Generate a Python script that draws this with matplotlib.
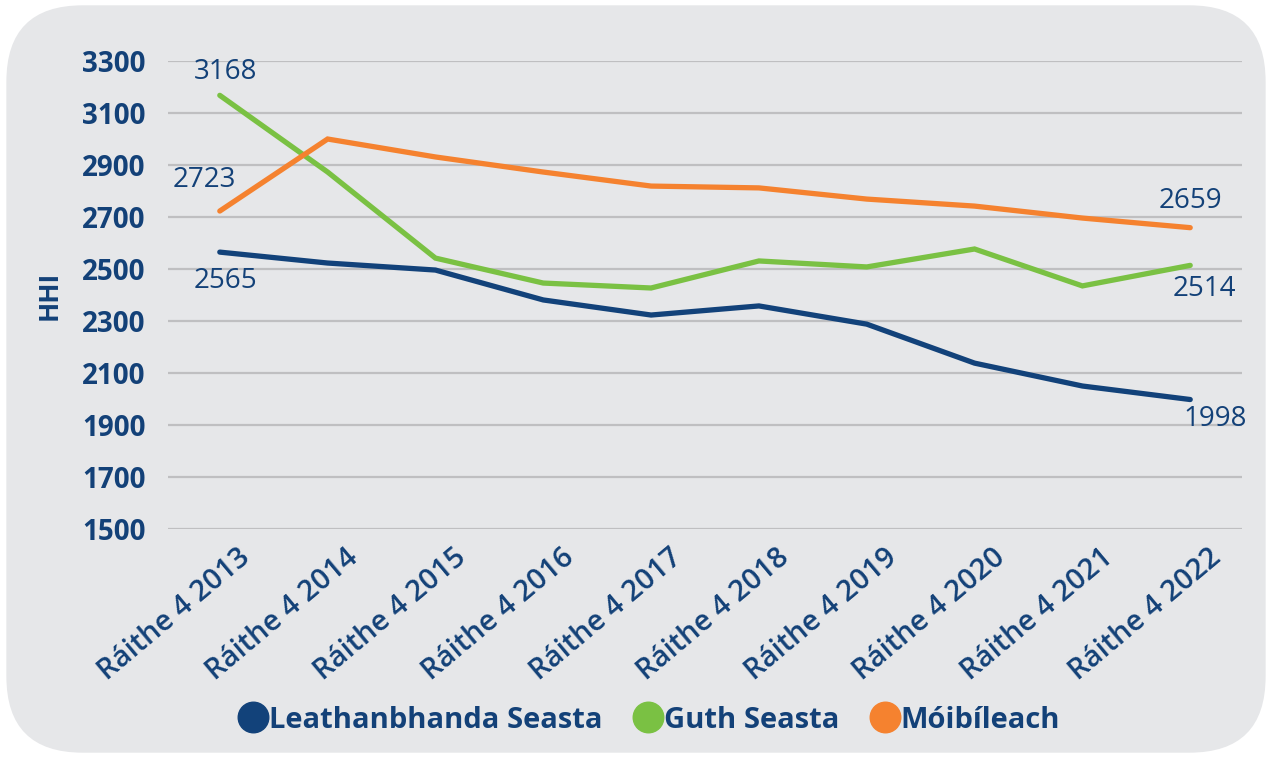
import matplotlib.pyplot as plt
import matplotlib.transforms as mtransforms
from matplotlib.patches import FancyBboxPatch
from matplotlib.lines import Line2D

# data
quarters = ["Ráithe 4 2013", "Ráithe 4 2014", "Ráithe 4 2015", "Ráithe 4 2016",
            "Ráithe 4 2017", "Ráithe 4 2018", "Ráithe 4 2019", "Ráithe 4 2020",
            "Ráithe 4 2021", "Ráithe 4 2022"]
leathanbhanda = [2565, 2523, 2496, 2381, 2323, 2358, 2288, 2138, 2050, 1998]
guth = [3168, 2873, 2542, 2446, 2427, 2531, 2508, 2577, 2435, 2514]
moibileach = [2723, 3000, 2931, 2873, 2819, 2812, 2769, 2742, 2696, 2659]
series_names = ["Leathanbhanda Seasta", "Guth Seasta", "Móibíleach"]
yticks = [1500, 1700, 1900, 2100, 2300, 2500, 2700, 2900, 3100, 3300]

navy = "#134178"
colors = ["#12427a", "#7ac143", "#f5822f"]
bg = "#e6e7e9"

plt.rcParams['font.family'] = ['Open Sans', 'DejaVu Sans']

fig = plt.figure(figsize=(12.72, 7.58), dpi=100)
fig.patch.set_facecolor("white")
panel = FancyBboxPatch((0.005, 0.007), 0.99, 0.986,
                       boxstyle="round,pad=0,rounding_size=0.06",
                       transform=fig.transFigure, facecolor=bg, edgecolor="none",
                       mutation_aspect=1272 / 758, zorder=-10)
fig.patches.append(panel)

ax = fig.add_axes([0.1321, 0.3021, 0.8443, 0.6174])
ax.set_facecolor("none")
x = list(range(len(quarters)))
for vals, c in zip([leathanbhanda, guth, moibileach], colors):
    ax.plot(x, vals, color=c, lw=3.8, solid_capstyle="round", solid_joinstyle="miter", zorder=3)

ax.set_xlim(-0.48, 9.48)
ax.set_ylim(1500, 3300)
ax.set_yticks(yticks)
ax.set_yticklabels([str(v) for v in yticks], fontsize=20, fontweight="bold", color=navy)
ax.tick_params(axis="y", length=0, pad=16)
ax.tick_params(axis="x", length=0, pad=0)
ax.grid(axis="y", color="#bfbfc1", lw=1.6)
ax.set_axisbelow(True)
for s in ax.spines.values():
    s.set_visible(False)

ax.set_xticks(x)
ax.set_xticklabels(quarters, rotation=40, ha="right", va="center",
                   rotation_mode="anchor", fontsize=21, fontweight="semibold", color=navy)
off = mtransforms.ScaledTranslation(27 / 100, -25 / 100, fig.dpi_scale_trans)
for lab in ax.get_xticklabels():
    lab.set_transform(lab.get_transform() + off)

ax.set_ylabel("HHI", fontsize=19, fontweight="bold", color=navy, labelpad=14)

# data labels at first and last point
lab_kw = dict(textcoords="offset points", fontsize=20, color=navy, ha="center", va="center")
ax.annotate(str(guth[0]), (0, guth[0]), xytext=(4, 17), **lab_kw)
ax.annotate(str(moibileach[0]), (0, moibileach[0]), xytext=(-11, 22), **lab_kw)
ax.annotate(str(leathanbhanda[0]), (0, leathanbhanda[0]), xytext=(4, -21), **lab_kw)
ax.annotate(str(moibileach[-1]), (9, moibileach[-1]), xytext=(0, 19), **lab_kw)
ax.annotate(str(guth[-1]), (9, guth[-1]), xytext=(10, -17), **lab_kw)
ax.annotate(str(leathanbhanda[-1]), (9, leathanbhanda[-1]), xytext=(18, -14), **lab_kw)

handles = [Line2D([], [], marker="o", ls="none", markersize=22, color=c) for c in colors]
leg = fig.legend(handles, series_names, loc="center", bbox_to_anchor=(0.51, 0.05),
                 ncol=3, frameon=False, handletextpad=0.0, columnspacing=1.0,
                 handlelength=1.1, prop={"size": 21, "weight": "bold"})
for t in leg.get_texts():
    t.set_color(navy)

fig.savefig("out.png", dpi=100)
